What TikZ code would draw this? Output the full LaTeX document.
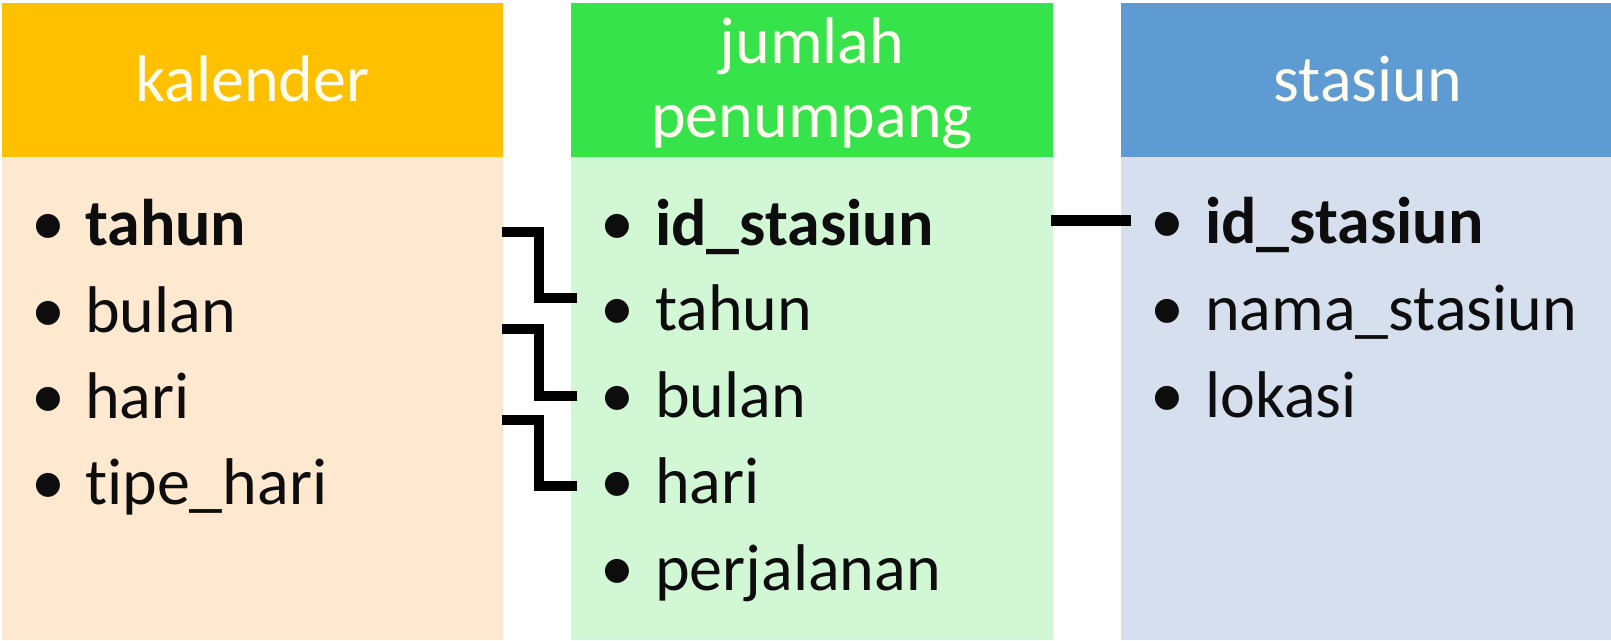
\documentclass[tikz,border=0pt]{standalone}
\usepackage{fontspec}
\setmainfont[Ligatures=NoCommon]{Carlito}
\definecolor{korange}{HTML}{FFC000}
\definecolor{korangebody}{HTML}{FEE8CF}
\definecolor{jgreen}{HTML}{36E34A}
\definecolor{jgreenbody}{HTML}{D2F7D5}
\definecolor{sblue}{HTML}{5E9BD3}
\definecolor{sbluebody}{HTML}{D5DFEE}
\definecolor{headtext}{HTML}{FFFDF0}
\definecolor{bodytext}{HTML}{0D0D0D}
\tikzset{
  headtitle/.style={anchor=base, inner sep=0pt, text=headtext, font=\fontsize{66}{74}\selectfont},
  bulletmark/.style={anchor=base, inner sep=0pt, text=bodytext, font=\fontsize{68}{87}\selectfont},
  itemtext/.style={anchor=base west, inner sep=0pt, text=bodytext, font=\fontsize{66}{87}\selectfont},
  keytext/.style={itemtext, font=\fontsize{66}{87}\selectfont\bfseries},
  relline/.style={draw=black, line width=10.5pt, line join=miter, line cap=butt}
}
\begin{document}
\begin{tikzpicture}[x=1pt,y=-1pt]
\useasboundingbox (0,0) rectangle (1611,640);
\fill[white] (0,0) rectangle (1611,640);
% kalender
\fill[korange] (2,3) rectangle (503,157);
\fill[korangebody] (2,157) rectangle (503,640);
\node[headtitle] (khead) at (252.5,101) {kalender};
\node[bulletmark] (kb1) at (48,245) {•};
\node[keytext] (k1) at (85,245) {tahun};
\node[bulletmark] (kb2) at (48,332) {•};
\node[itemtext] (k2) at (85,332) {bulan};
\node[bulletmark] (kb3) at (48,418) {•};
\node[itemtext] (k3) at (85,418) {hari};
\node[bulletmark] (kb4) at (48,504) {•};
\node[itemtext] (k4) at (85,504) {tipe\_hari};
% jumlah penumpang
\fill[jgreen] (571,3) rectangle (1053,157);
\fill[jgreenbody] (571,157) rectangle (1053,640);
\node[headtitle] (jhead1) at (812,63) {jumlah};
\node[headtitle] (jhead2) at (812,137) {penumpang};
\node[bulletmark] (jb1) at (617,245) {•};
\node[keytext] (j1) at (655,245) {id\_stasiun};
\node[bulletmark] (jb2) at (617,330) {•};
\node[itemtext] (j2) at (655,330) {tahun};
\node[bulletmark] (jb3) at (617,417) {•};
\node[itemtext] (j3) at (655,417) {bulan};
\node[bulletmark] (jb4) at (617,503) {•};
\node[itemtext] (j4) at (655,503) {hari};
\node[bulletmark] (jb5) at (617,590) {•};
\node[itemtext] (j5) at (655,590) {perjalanan};
% stasiun
\fill[sblue] (1121,3) rectangle (1611,157);
\fill[sbluebody] (1121,157) rectangle (1611,640);
\node[headtitle] (shead) at (1368,101) {stasiun};
\node[bulletmark] (sb1) at (1167,243) {•};
\node[keytext] (s1) at (1205,243) {id\_stasiun};
\node[bulletmark] (sb2) at (1167,330) {•};
\node[itemtext] (s2) at (1205,330) {nama\_stasiun};
\node[bulletmark] (sb3) at (1167,417) {•};
\node[itemtext] (s3) at (1205,417) {lokasi};
% connector end points
\coordinate (ka) at (502,232);
\coordinate (ja) at (577,298);
\coordinate (kb) at (502,329);
\coordinate (jb) at (577,396);
\coordinate (kc) at (502,420);
\coordinate (jc) at (577,486);
\coordinate (jid) at (1051,220.5);
\coordinate (sid) at (1131,220.5);
\draw[relline] (ka) -- (539,232) |- (ja);
\draw[relline] (kb) -- (539,329) |- (jb);
\draw[relline] (kc) -- (539,420) |- (jc);
\draw[relline] (jid) -- (sid);
\end{tikzpicture}
\end{document}
